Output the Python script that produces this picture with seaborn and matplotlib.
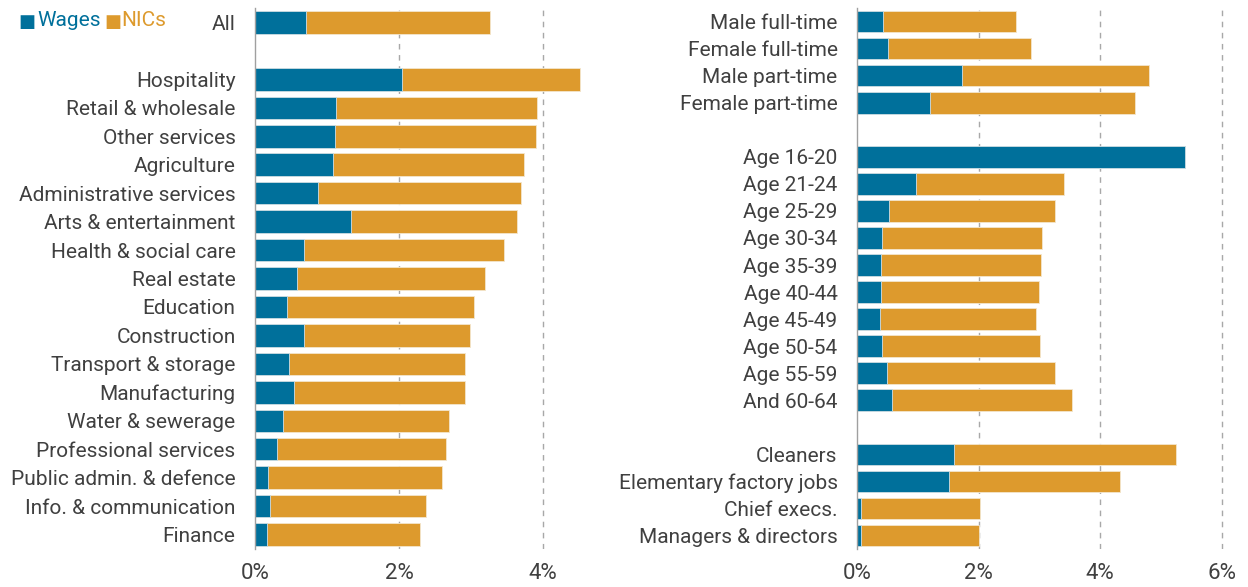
import numpy as np
import pandas as pd
import seaborn as sns
import matplotlib.pyplot as plt

# colours
BLUE = "#00709b"
ORANGE = "#dd9a2d"
TXT = "#404040"

# ---- left panel: all employees and industries (% of pay)
all_label = ["All"]
all_wages = [0.71]
all_nics = [2.55]

industry = ["Hospitality", "Retail & wholesale", "Other services", "Agriculture",
            "Administrative services", "Arts & entertainment", "Health & social care",
            "Real estate", "Education", "Construction", "Transport & storage",
            "Manufacturing", "Water & sewerage", "Professional services",
            "Public admin. & defence", "Info. & communication", "Finance"]
industry_wages = [2.04, 1.12, 1.11, 1.08, 0.87, 1.34, 0.68, 0.59, 0.44, 0.68,
                  0.47, 0.54, 0.39, 0.31, 0.18, 0.21, 0.16]
industry_nics = [2.47, 2.79, 2.79, 2.65, 2.83, 2.30, 2.78, 2.60, 2.60, 2.31,
                 2.45, 2.38, 2.31, 2.34, 2.42, 2.17, 2.13]

# ---- right panel: work pattern, age, occupation
pattern = ["Male full-time", "Female full-time", "Male part-time", "Female part-time"]
pattern_wages = [0.43, 0.51, 1.72, 1.20]
pattern_nics = [2.18, 2.36, 3.08, 3.38]

age = ["Age 16-20", "Age 21-24", "Age 25-29", "Age 30-34", "Age 35-39",
       "Age 40-44", "Age 45-49", "Age 50-54", "Age 55-59", "And 60-64"]
age_wages = [5.40, 0.97, 0.52, 0.41, 0.39, 0.39, 0.38, 0.41, 0.49, 0.58]
age_nics = [0.00, 2.44, 2.73, 2.64, 2.63, 2.60, 2.56, 2.60, 2.76, 2.96]

occupation = ["Cleaners", "Elementary factory jobs", "Chief execs.", "Managers & directors"]
occupation_wages = [1.60, 1.51, 0.07, 0.07]
occupation_nics = [3.64, 2.82, 1.95, 1.93]


def build(groups):
    """stack groups into one frame plus a category order with blank spacers"""
    frames, order = [], []
    for i, (labels, wages, nics) in enumerate(groups):
        if i > 0:
            order.append(" " * i)
        order += labels
        frames.append(pd.DataFrame({"label": labels, "wages": wages, "nics": nics}))
    df = pd.concat(frames, ignore_index=True)
    df["total"] = df["wages"] + df["nics"]
    return df, order


left_df, left_order = build([(all_label, all_wages, all_nics),
                             (industry, industry_wages, industry_nics)])
right_df, right_order = build([(pattern, pattern_wages, pattern_nics),
                               (age, age_wages, age_nics),
                               (occupation, occupation_wages, occupation_nics)])

sns.set_style("white")
plt.rcParams["font.family"] = ["Roboto", "DejaVu Sans"]

fig = plt.figure(figsize=(12.48, 5.87), dpi=100)
ax1 = fig.add_axes([255 / 1248, 0.065, 4.7 * 72 / 1248, 0.921])
ax2 = fig.add_axes([857 / 1248, 0.065, 6.2 * 60.8 / 1248, 0.921])

for ax, df, order, xmax, ticks in [(ax1, left_df, left_order, 4.7, [0, 2, 4]),
                                   (ax2, right_df, right_order, 6.2, [0, 2, 4, 6])]:
    for t in ticks[1:]:
        ax.axvline(t, color="#a8a8a8", lw=1, ls=(0, (4, 4)), zorder=0)
    sns.barplot(data=df, x="total", y="label", order=order, color=ORANGE,
                orient="h", width=0.79, errorbar=None, saturation=1,
                edgecolor="#f3e6cc", linewidth=0.6, ax=ax, zorder=2)
    sns.barplot(data=df, x="wages", y="label", order=order, color=BLUE,
                orient="h", width=0.79, errorbar=None, saturation=1,
                edgecolor="#cfe0e8", linewidth=0.6, ax=ax, zorder=3)
    ax.set_xlim(0, xmax)
    ax.set_xticks(ticks)
    ax.set_xticklabels([f"{t}%" for t in ticks])
    ax.set_xlabel("")
    ax.set_ylabel("")
    for s in ["top", "right", "bottom"]:
        ax.spines[s].set_visible(False)
    ax.spines["left"].set_color("#a0a0a0")
    ax.spines["left"].set_linewidth(1)
    ax.spines["left"].set_zorder(4)
    ax.tick_params(axis="both", length=0, labelcolor=TXT)
    ax.tick_params(axis="y", pad=14, labelsize=15)
    ax.tick_params(axis="x", pad=10, labelsize=16)

# legend as coloured text
fig.text(18 / 1248, 1 - 22 / 587, "■", color=BLUE, fontsize=13, va="center", ha="left",
         family=["DejaVu Sans"])
fig.text(37 / 1248, 1 - 21 / 587, "Wages", color=BLUE, fontsize=15, va="center", ha="left")
fig.text(104 / 1248, 1 - 22 / 587, "■", color=ORANGE, fontsize=13, va="center", ha="left",
         family=["DejaVu Sans"])
fig.text(121 / 1248, 1 - 21 / 587, "NICs", color=ORANGE, fontsize=15, va="center", ha="left")

fig.savefig("out.png", dpi=100)
